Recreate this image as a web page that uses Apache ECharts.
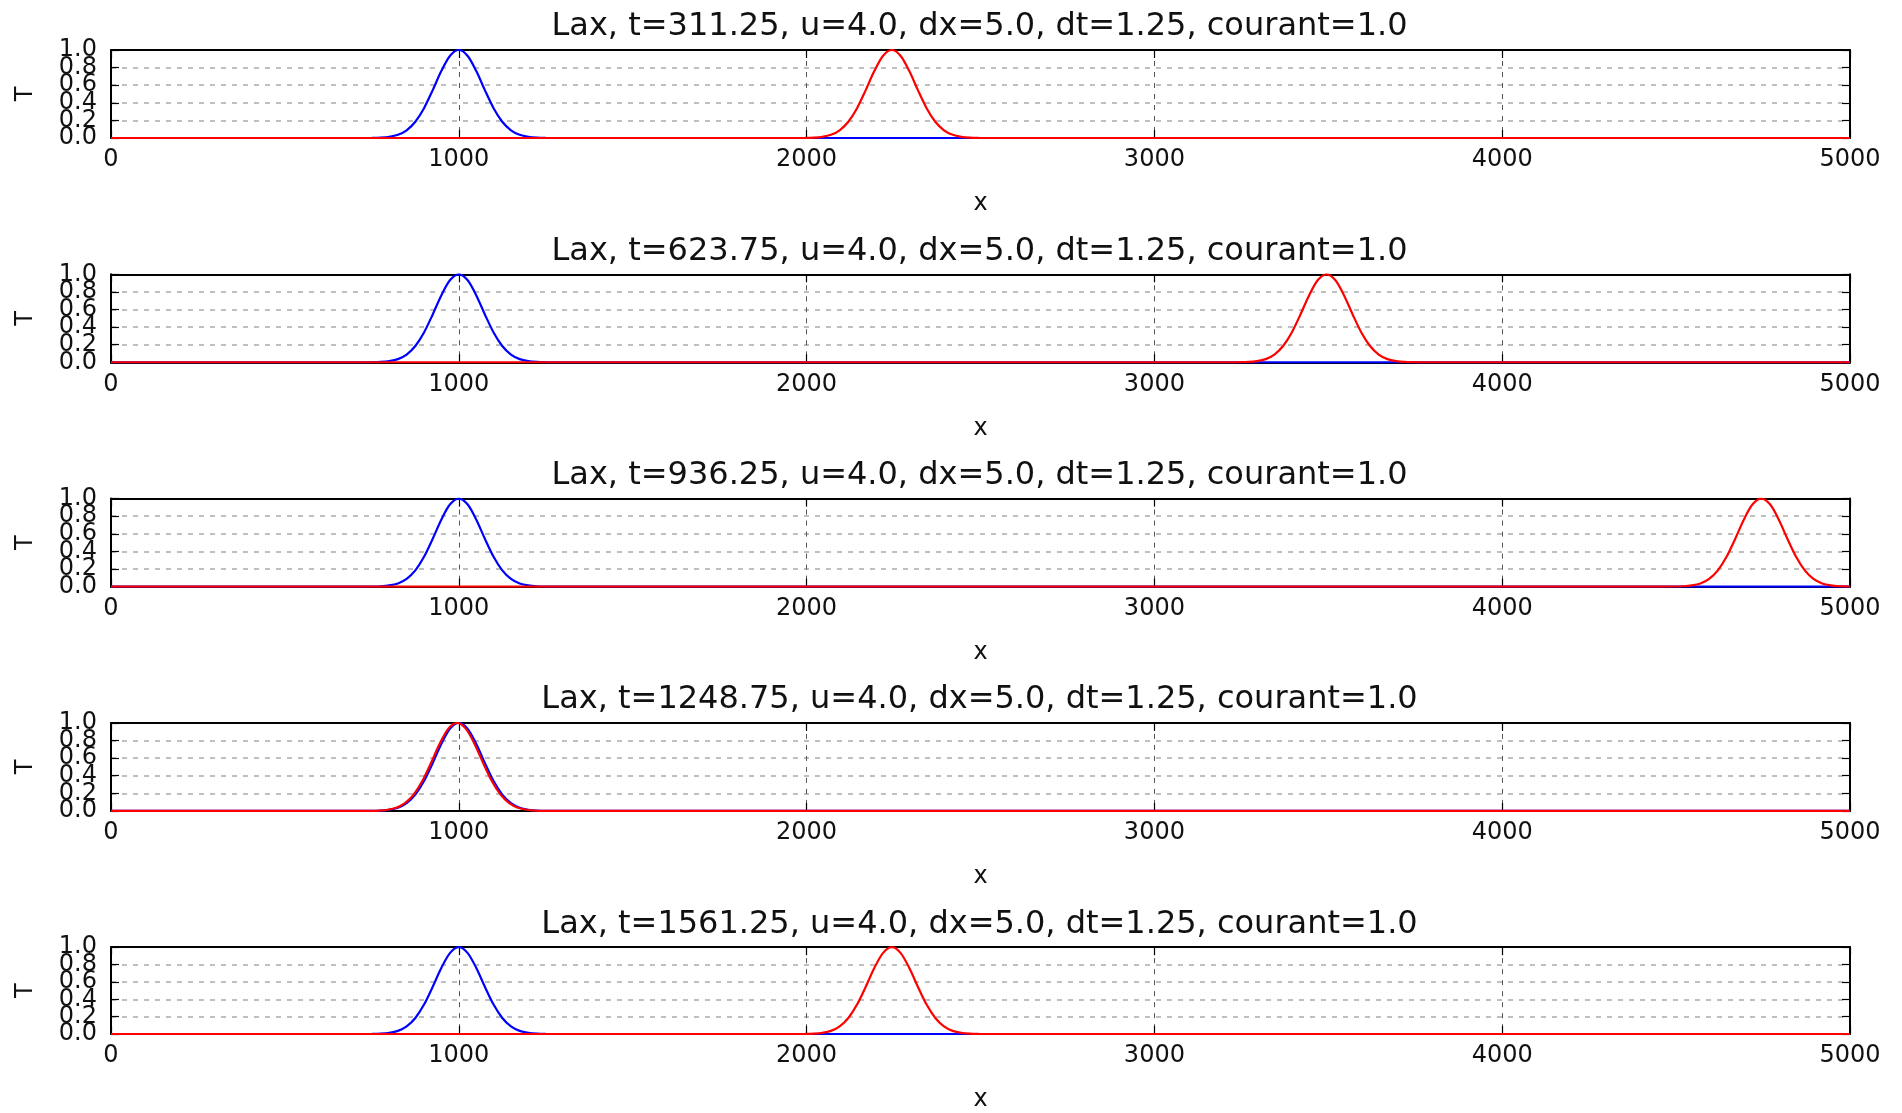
<!DOCTYPE html>
<html>
<head>
<meta charset="utf-8">
<title>Lax advection</title>
<style>
  html, body { margin: 0; padding: 0; background: #fff; }
  #main { width: 1902px; height: 1113px; }
</style>
<script src="https://cdn.jsdelivr.net/npm/echarts@6/dist/echarts.min.js"></script>
</head>
<body>
<div id="main"></div>
<script>
// simulation snapshots (one panel per time)
var times = [311.25, 623.75, 936.25, 1248.75, 1561.25];
var speed = 4.0, dx = 5.0, dt = 1.25, courant = 1.0;

// pulse centres
var initialCenter = 1000;
var laxCenters = [2245, 3495, 4745, 995, 2245];

// pulse shape: offset from centre -> T
var pulseOffsets = [-300, -275, -250, -225, -200, -175, -150, -125, -100, -75, -50, -25, 0,
                    25, 50, 75, 100, 125, 150, 175, 200, 225, 250, 275, 300];
var pulseValues  = [0, 0, 0.001, 0.004, 0.013, 0.036, 0.088, 0.185, 0.339, 0.544, 0.763, 0.935, 1.0,
                    0.935, 0.763, 0.544, 0.339, 0.185, 0.088, 0.036, 0.013, 0.004, 0.001, 0, 0];

// y tick labels are split over two axes so that none get hidden as overlapping
var yLabelsA = ['0.0', '0.4', '0.8'];
var yLabelsB = ['0.2', '0.6', '1.0'];

var xMin = 0, xMax = 5000;

function pulse(center) {
    var pts = [[xMin, 0]];
    [-xMax, 0, xMax].forEach(function (shift) {
        for (var i = 0; i < pulseOffsets.length; i++) {
            var x = center + shift + pulseOffsets[i];
            if (x > xMin && x < xMax) pts.push([x, pulseValues[i]]);
        }
    });
    pts.push([xMax, 0]);
    pts.sort(function (a, b) { return a[0] - b[0]; });
    return pts;
}

function pick(list) {
    return function (v) {
        var s = v.toFixed(1);
        return list.indexOf(s) >= 0 ? s : '';
    };
}

var font = 'DejaVu Sans';
var plotLeft = 111, plotRight = 52, plotH = 88, firstTop = 50, step = 224.3;
var frame = { show: true, onZero: false, lineStyle: { color: '#000', width: 2 } };
var tick = { show: true, inside: true, length: 8, lineStyle: { color: '#000', width: 1.2 } };
var yLabelStyle = { fontFamily: font, fontSize: 24, color: '#111', margin: 14,
                    showMinLabel: true, showMaxLabel: true, hideOverlap: false };

var grids = [], xAxes = [], yAxes = [], titles = [], series = [];

times.forEach(function (t, i) {
    var top = firstTop + i * step;
    grids.push({ left: plotLeft, right: plotRight, top: top, height: plotH });
    titles.push({
        text: 'Lax, t=' + t + ', u=' + speed.toFixed(1) + ', dx=' + dx.toFixed(1) +
              ', dt=' + dt + ', courant=' + courant.toFixed(1),
        left: (plotLeft + 1902 - plotRight) / 2 - 6, textAlign: 'center',
        top: top - 44,
        textStyle: { fontFamily: font, fontSize: 32, fontWeight: 'normal', color: '#111' }
    });
    // bottom x axis
    xAxes.push({
        type: 'value', gridIndex: i, min: xMin, max: xMax, interval: 1000,
        name: 'x', nameLocation: 'middle', nameGap: 54,
        nameTextStyle: { fontFamily: font, fontSize: 24, color: '#111' },
        axisLine: frame, axisTick: tick,
        axisLabel: { fontFamily: font, fontSize: 24, color: '#111', margin: 10,
                     showMinLabel: true, showMaxLabel: true,
                     formatter: function (v) { return String(v); } },
        splitLine: { show: true, lineStyle: { color: '#555', type: [5, 6], width: 1 } }
    });
    // top x axis (frame and ticks only)
    xAxes.push({
        type: 'value', gridIndex: i, position: 'top', min: xMin, max: xMax, interval: 1000,
        axisLine: frame, axisTick: tick,
        axisLabel: { show: false }, splitLine: { show: false }
    });
    yAxes.push({
        type: 'value', gridIndex: i, min: 0, max: 1, interval: 0.2,
        name: 'T', nameLocation: 'middle', nameGap: 73, nameRotate: 90,
        nameTextStyle: { fontFamily: font, fontSize: 24, color: '#111' },
        axisLine: frame, axisTick: tick,
        axisLabel: Object.assign({ formatter: pick(yLabelsA) }, yLabelStyle),
        splitLine: { show: true, lineStyle: { color: '#aaa', type: [5, 6], width: 1.5 } }
    });
    yAxes.push({
        type: 'value', gridIndex: i, position: 'right', min: 0, max: 1, interval: 0.2,
        axisLine: frame, axisTick: tick,
        axisLabel: { show: false }, splitLine: { show: false }
    });
    yAxes.push({
        type: 'value', gridIndex: i, position: 'left', min: 0, max: 1, interval: 0.2,
        axisLine: { show: false }, axisTick: { show: false },
        axisLabel: Object.assign({ formatter: pick(yLabelsB) }, yLabelStyle),
        splitLine: { show: false }
    });
    series.push({
        type: 'line', xAxisIndex: 2 * i, yAxisIndex: 3 * i, data: pulse(initialCenter),
        showSymbol: false, smooth: 0.3, lineStyle: { color: '#0000ff', width: 2.2 }, z: 3
    });
    series.push({
        type: 'line', xAxisIndex: 2 * i, yAxisIndex: 3 * i, data: pulse(laxCenters[i]),
        showSymbol: false, smooth: 0.3, lineStyle: { color: '#ff0000', width: 2.2 }, z: 4
    });
});

var chart = echarts.init(document.getElementById('main'));
chart.setOption({
    animation: false,
    backgroundColor: '#fff',
    title: titles,
    grid: grids,
    xAxis: xAxes,
    yAxis: yAxes,
    series: series
});
</script>
</body>
</html>
